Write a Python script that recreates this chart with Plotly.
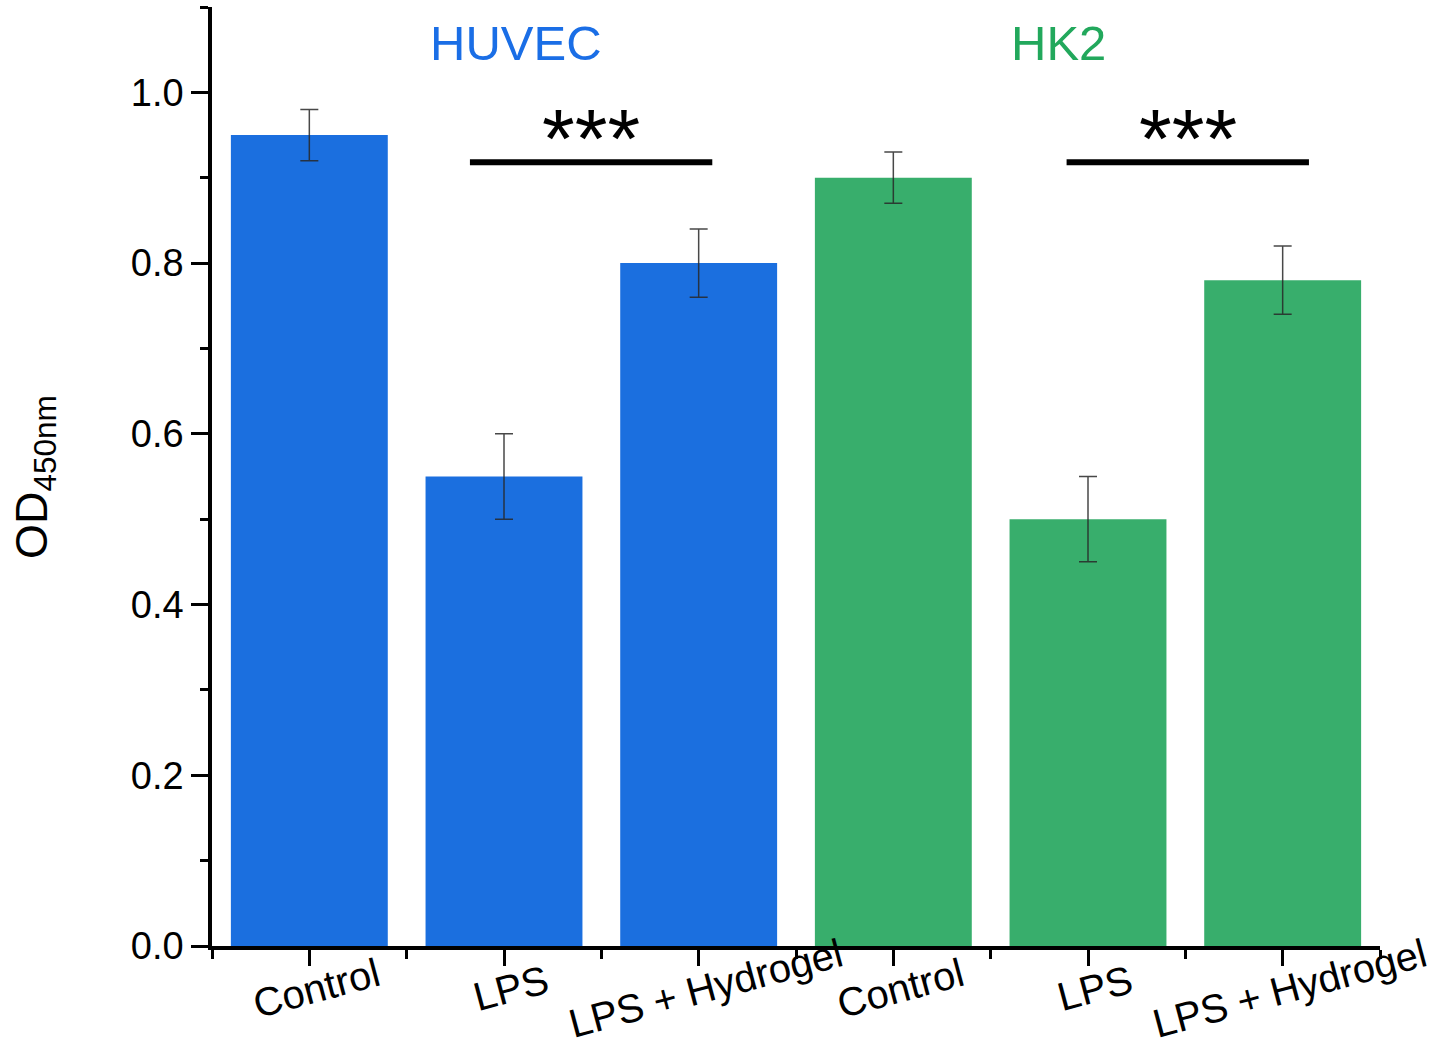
import plotly.graph_objects as go

# ---- data ----
categories = ["Control", "LPS", "LPS + Hydrogel", "Control", "LPS", "LPS + Hydrogel"]
od_values = [0.95, 0.55, 0.80, 0.90, 0.50, 0.78]
od_errors = [0.03, 0.05, 0.04, 0.03, 0.05, 0.04]
bar_colors = ["#1b6fdf", "#1b6fdf", "#1b6fdf", "#38ae6c", "#38ae6c", "#38ae6c"]

group_names = ["HUVEC", "HK2"]
group_x = [1.06, 3.85]
group_y = [1.058, 1.058]
group_colors = ["#1a6ee6", "#22a85c"]

sig_x0 = [0.825, 3.89]
sig_x1 = [2.07, 5.135]
sig_y = [0.918, 0.918]
sig_text = ["***", "***"]

y_ticks = [0.0, 0.2, 0.4, 0.6, 0.8, 1.0]

FONT = "Liberation Sans, Arial, sans-serif"

positions = list(range(len(categories)))

fig = go.Figure()
fig.add_trace(go.Bar(
    x=positions,
    y=od_values,
    width=0.806,
    marker=dict(color=bar_colors, line=dict(width=0)),
    error_y=dict(type="data", array=od_errors, visible=True,
                 color="rgba(40,40,40,0.85)", thickness=1.5, width=9),
    showlegend=False,
))

# category labels (centered, rotated)
for xi, lab in zip(positions, categories):
    fig.add_annotation(x=xi, y=0, xref="x", yref="y", text=lab,
                       showarrow=False, textangle=-15,
                       xanchor="center", yanchor="middle",
                       xshift=7, yshift=-42,
                       font=dict(family=FONT, size=40, color="black"))

# group titles
for name, gx, gy, gc in zip(group_names, group_x, group_y, group_colors):
    fig.add_annotation(x=gx, y=gy, xref="x", yref="y", text=name,
                       showarrow=False, xanchor="center", yanchor="middle",
                       font=dict(family=FONT, size=49, color=gc))

# significance bars
for x0, x1, yy, t in zip(sig_x0, sig_x1, sig_y, sig_text):
    fig.add_shape(type="line", x0=x0, x1=x1, y0=yy, y1=yy, xref="x", yref="y",
                  line=dict(color="black", width=6))
    fig.add_annotation(x=(x0 + x1) / 2, y=yy, xref="x", yref="y", text=t,
                       showarrow=False, xanchor="center", yanchor="middle",
                       yshift=23,
                       font=dict(family=FONT, size=84, color="black"))

# y axis title
fig.add_annotation(x=-0.152, y=0.5, xref="paper", yref="paper",
                   text="OD<sub>450nm</sub>", showarrow=False, textangle=-90,
                   xanchor="center", yanchor="middle",
                   font=dict(family=FONT, size=45, color="black"))

fig.update_xaxes(
    range=[-0.5, 5.5],
    showline=True, linecolor="black", linewidth=3.5,
    tickmode="array", tickvals=positions, showticklabels=False,
    ticks="outside", ticklen=16, tickwidth=3, tickcolor="black",
    minor=dict(tickmode="array", tickvals=[p - 0.5 for p in positions] + [positions[-1] + 0.5],
               ticks="outside", ticklen=9, tickwidth=3, tickcolor="black", showgrid=False),
    showgrid=False, zeroline=False,
)
fig.update_yaxes(
    range=[0, 1.1],
    showline=True, linecolor="black", linewidth=3.5,
    tickmode="array", tickvals=y_ticks, tickformat=".1f",
    ticks="outside", ticklen=17, tickwidth=3, tickcolor="black",
    tickfont=dict(family=FONT, size=38, color="black"),
    minor=dict(dtick=0.1, tick0=0, ticks="outside", ticklen=8, tickwidth=3,
               tickcolor="black", showgrid=False),
    showgrid=False, zeroline=False,
)

fig.update_layout(
    width=1433, height=1045,
    margin=dict(l=212, r=53, t=7, b=99, autoexpand=False),
    paper_bgcolor="white", plot_bgcolor="white",
    bargap=0.2,
)

fig.write_html("out.html")
